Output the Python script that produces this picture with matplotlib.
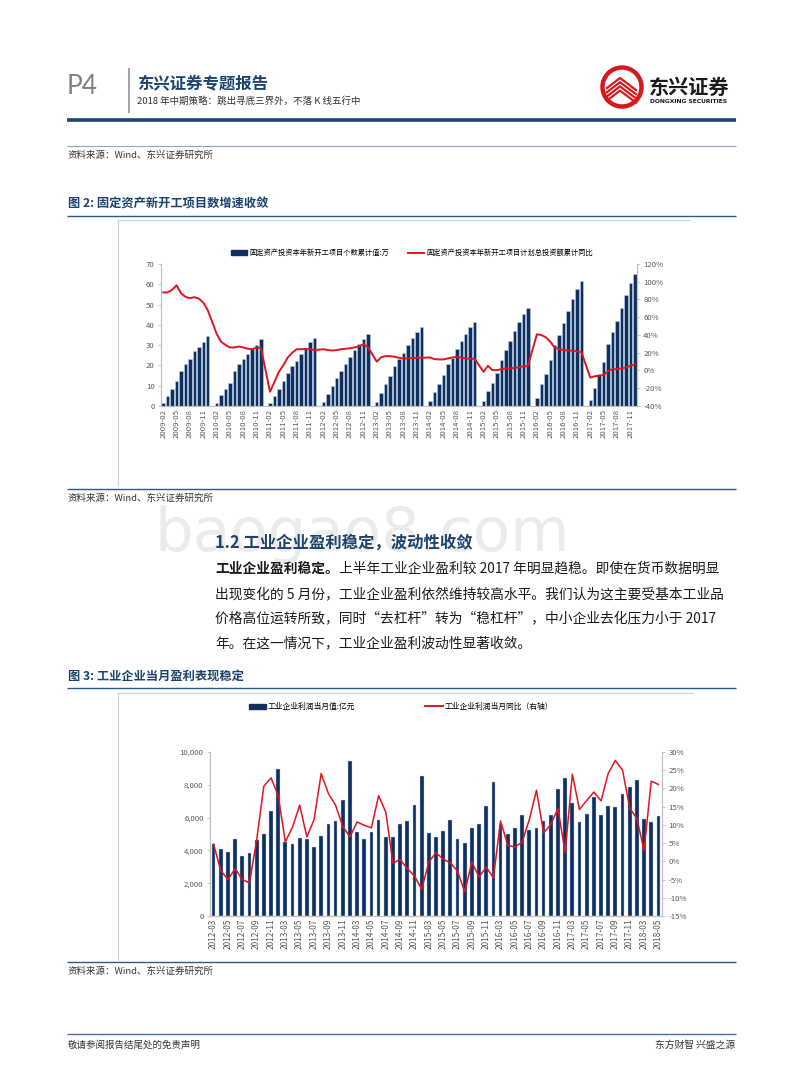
import matplotlib
matplotlib.use('Agg')
import matplotlib.pyplot as plt
import matplotlib.patches as mpatches
from matplotlib.lines import Line2D
from matplotlib.ticker import FuncFormatter
import numpy as np

plt.rcParams['font.family'] = ['Noto Sans CJK SC', 'DejaVu Sans']

# ---------------- data: figure 2 (Feb..Dec of each year, Jan has no data)
years1 = [2009, 2010, 2011, 2012, 2013, 2014, 2015, 2016, 2017]
proj_count = [  # 新开工项目个数累计值, 万
    [1.5, 5.0, 8.4, 12.2, 17.5, 20.5, 23.4, 27.0, 29.2, 31.5, 34.5],
    [1.6, 5.6, 8.4, 11.5, 17.5, 20.5, 23.0, 25.4, 28.0, 30.0, 33.0],
    [1.6, 5.1, 8.6, 12.2, 16.5, 19.8, 22.4, 25.4, 28.5, 31.4, 33.3],
    [2.0, 5.8, 9.7, 13.7, 17.5, 20.8, 24.0, 27.5, 30.4, 33.0, 35.5],
    [2.0, 6.6, 10.6, 14.9, 19.8, 23.4, 26.1, 29.9, 33.3, 36.5, 38.8],
    [2.5, 6.9, 10.6, 15.2, 20.6, 23.8, 28.0, 32.0, 35.5, 38.8, 41.6],
    [2.5, 7.4, 11.5, 16.5, 22.9, 27.5, 32.0, 37.0, 41.6, 45.4, 48.5],
    [4.1, 10.6, 16.0, 22.6, 30.0, 35.0, 40.8, 47.0, 52.6, 57.6, 61.7],
    [2.8, 9.0, 16.0, 21.8, 30.5, 36.6, 42.0, 48.2, 54.5, 60.4, 65.0],
]
plan_yoy = [  # 计划总投资额累计同比, %
    [88, 88, 91, 96, 87, 83, 81.5, 82.6, 81, 76.6, 68],
    [41.5, 32.5, 28.7, 26, 26, 27, 26, 24.5, 24, 26, 25],
    [-24, -12.8, -1.5, 6, 14.7, 20, 24, 24, 24.3, 24, 23],
    [24, 23, 22.5, 23, 24, 24.5, 25, 26, 27, 29.5, 26.5],
    [10, 15, 16.2, 16.2, 15.5, 14.3, 13.6, 13.6, 14, 14.3, 14.3],
    [14.7, 12.8, 12.5, 12.5, 13.6, 14.7, 15.5, 14.7, 13.6, 13.2, 13.2],
    [-1.5, 5.3, 0.4, 0.4, 1.5, 2.3, 2.3, 3, 3.8, 4.5, 5.3],
    [40.8, 40, 37.4, 32.5, 25.7, 24.2, 23, 22.6, 22.3, 21.5, 20.8],
    [-8, -6.4, -6, -4.9, -0.8, 1.5, 1.5, 2.3, 3.4, 5.3, 6.8],
]

# ---------------- data: figure 3 (Mar..Dec of each year)
years2 = [2012, 2013, 2014, 2015, 2016, 2017, 2018]
profit = [  # 工业企业利润当月值, 亿元
    [4410, 4065, 3920, 4700, 3680, 3820, 4630, 5000, 6400, 8960],
    [4510, 4370, 4735, 4675, 4190, 4860, 5590, 5810, 7090, 9450],
    [5120, 4715, 5120, 5870, 4820, 4820, 5630, 5770, 6750, 8520],
    [5080, 4800, 5200, 5870, 4720, 4470, 5345, 5590, 6730, 8170],
    [5550, 5020, 5390, 6160, 5220, 5345, 5770, 6160, 7740, 8430],
    [6870, 5730, 6240, 7280, 6140, 6730, 6650, 7460, 7870, 8270],
    [5910, 5750, 6080],
]
profit_yoy = [  # 当月同比, %
    [4.7, -2.5, -5.0, -2.0, -5.0, -5.9, 5.8, 20.6, 22.9, 18.1],
    [5.3, 9.4, 15.4, 6.7, 11.4, 24.1, 18.6, 15.4, 9.6, 6.7],
    [10.8, 9.9, 9.2, 18.0, 13.5, -0.5, 0.5, -2.0, -4.0, -7.7],
    [-0.2, 2.4, 0.6, -0.4, -2.7, -8.4, -0.2, -4.3, -1.6, -4.5],
    [11.1, 4.4, 3.9, 5.3, 11.4, 19.5, 7.8, 10.1, 14.5, 2.4],
    [23.9, 14.2, 16.7, 19.0, 16.6, 24.1, 27.7, 25.0, 14.6, 11.7],
    [3.0, 22.0, 21.1],
]

# build category axes
cats1, bars1, line1 = [], [], []
for i, yr in enumerate(years1):
    if i > 0:
        cats1.append(f'{yr}-01')
        bars1.append(np.nan)
        line1.append(np.nan)
    for j in range(11):
        cats1.append(f'{yr}-{j + 2:02d}')
        bars1.append(proj_count[i][j])
        line1.append(plan_yoy[i][j])
bars1 = np.array(bars1)
line1 = np.array(line1)

cats2, bars2, line2 = [], [], []
for i, yr in enumerate(years2):
    for j in range(len(profit[i])):
        cats2.append(f'{yr}-{j + 3:02d}')
        bars2.append(profit[i][j])
        line2.append(profit_yoy[i][j])

NAVY = '#0f2f5e'
RED = '#e3141f'
BLUE_T = '#1c4370'
GRAY_T = '#595959'
W, H = 800, 1086

fig = plt.figure(figsize=(8, 10.86), dpi=100)
page = fig.add_axes([0, 0, 1, 1])
page.set_xlim(0, W)
page.set_ylim(H, 0)
page.axis('off')


def rect(l, t, r, b):
    return [l / W, 1 - b / H, (r - l) / W, (b - t) / H]


def hline(y, x0=67, x1=736, c='#2c5a85', lw=1.0):
    page.plot([x0, x1], [y, y], color=c, lw=lw, solid_capstyle='butt')


# ---------------- header
page.text(67, 87, 'P4', fontsize=19, color='#808080', family='Lato', va='center')
page.plot([129, 129], [69, 112], color='#9a9a9a', lw=1.3)
page.text(137, 84, '东兴证券专题报告', fontsize=11.8, weight='bold', color=BLUE_T, va='center')
page.text(137, 101, '2018 年中期策略：跳出寻底三界外，不落 K 线五行中', fontsize=6.8, color='#333333', va='center')

# logo
page.add_patch(mpatches.Circle((622, 87), 19.5, fill=False, ec='#d7191f', lw=3.2))
for k in range(4):
    dy = k * 4.2
    page.plot([607, 620, 636], [94 + dy - 6, 80 + dy - 2, 90 + dy], color='#d7191f', lw=1.6)
page.text(649, 87, '东兴证券', fontsize=14.5, weight='heavy', color='#1a1a1a', va='center')
page.text(650, 101.5, 'DONGXING SECURITIES', fontsize=4.3, weight='bold', color='#1a1a1a',
          va='center', family='DejaVu Sans')

hline(120, c='#1a4674', lw=2.6)
hline(146, c='#8da6bf', lw=0.8)
src = '资料来源：Wind、东兴证券研究所'
page.text(68, 155, src, fontsize=6.8, color='#333333', va='center', style='italic')

# ---------------- figure 2 frame
page.text(68, 204, '图 2: 固定资产新开工项目数增速收敛', fontsize=8.8, weight='bold',
          color=BLUE_T, va='center')
hline(216)
page.plot([118, 689], [219.5, 219.5], color='#d0d0d0', lw=0.8)
page.plot([118, 118], [219.5, 486], color='#d0d0d0', lw=0.8)
hline(489)
page.text(68, 498, src, fontsize=6.8, color='#333333', va='center', style='italic')

# watermark + section text
page.text(154, 551, 'baogao8.com', fontsize=44, color='#ebebeb', family='DejaVu Sans', zorder=0)
page.text(215, 543, '1.2 工业企业盈利稳定，波动性收敛', fontsize=11.8, weight='bold', color=BLUE_T,
          va='center', zorder=3)
t0 = page.text(215, 569, '工业企业盈利稳定。', fontsize=9.9, weight='bold', color='#1a1a1a', va='center')
fig.canvas.draw()
x_end = t0.get_window_extent(fig.canvas.get_renderer()).x1
page.text(x_end, 569, '上半年工业企业盈利较 2017 年明显趋稳。即使在货币数据明显', fontsize=9.9,
          color='#1a1a1a', va='center')
para = ['出现变化的 5 月份，工业企业盈利依然维持较高水平。我们认为这主要受基本工业品',
        '价格高位运转所致，同时“去杠杆”转为“稳杠杆”，中小企业去化压力小于 2017',
        '年。在这一情况下，工业企业盈利波动性显著收敛。']
for k, s in enumerate(para):
    page.text(215, 594 + 24.5 * k, s, fontsize=9.9, color='#1a1a1a', va='center')

# ---------------- figure 3 frame
page.text(68, 676, '图 3: 工业企业当月盈利表现稳定', fontsize=8.8, weight='bold', color=BLUE_T, va='center')
hline(688)
page.plot([118, 693], [692.5, 692.5], color='#d0d0d0', lw=0.8)
page.plot([118, 118], [692.5, 960], color='#d0d0d0', lw=0.8)
hline(962)
page.text(68, 971, src, fontsize=6.8, color='#333333', va='center', style='italic')

# footer
hline(1034, c='#4a6f93', lw=1.0)
page.text(68, 1045, '敬请参阅报告结尾处的免责声明', fontsize=6.8, color='#333333', va='center')
page.text(735, 1045, '东方财智 兴盛之源', fontsize=7, color='#333333', va='center', ha='right')


def style_axes(ax, ax2):
    for a in (ax, ax2):
        a.patch.set_alpha(0)
        a.spines['top'].set_visible(False)
        for s in ('left', 'right', 'bottom'):
            a.spines[s].set_color('#bfbfbf')
            a.spines[s].set_linewidth(0.8)
        a.tick_params(axis='y', length=2, width=0.6, color='#bfbfbf', labelsize=5.6,
                      labelcolor=GRAY_T, pad=2.5)
    ax.tick_params(axis='x', length=0, labelsize=5.6, labelcolor=GRAY_T, pad=2, rotation=90)


# ---------------- chart 1
x1 = np.arange(len(cats1))
ax = fig.add_axes(rect(161, 264, 637, 406))
ax2 = ax.twinx()
ax.bar(x1, bars1, width=0.78, color=NAVY, edgecolor='#bcd3ec', linewidth=0.4)
ok = ~np.isnan(line1)
ax2.plot(x1[ok], line1[ok], color=RED, lw=1.4)
ax.set_xlim(-0.5, len(cats1) - 0.5)
ax.set_ylim(0, 70)
ax.set_yticks(range(0, 71, 10))
ax2.set_ylim(-40, 120)
ax2.set_yticks(range(-40, 121, 20))
ax2.yaxis.set_major_formatter(FuncFormatter(lambda v, p: f'{v:.0f}%'))
ax.set_xticks(x1[::3])
ax.set_xticklabels(cats1[::3])
style_axes(ax, ax2)

h1 = [mpatches.Patch(color=NAVY), Line2D([], [], color=RED, lw=1.4)]
fig.legend(h1, ['固定资产投资本年新开工项目个数累计值:万', '固定资产投资本年新开工项目计划总投资额累计同比'],
           loc='center', bbox_to_anchor=(412 / W, 1 - 253 / H), ncol=2, frameon=False,
           fontsize=5.2, handlelength=2.2, handleheight=0.6, handletextpad=0.3, columnspacing=2.6)

# ---------------- chart 2
x2 = np.arange(len(cats2))
bx = fig.add_axes(rect(210, 752, 662, 916))
bx2 = bx.twinx()
bx.bar(x2, bars2, width=0.52, color=NAVY, edgecolor='#bcd3ec', linewidth=0.3)
bx2.plot(x2, line2, color=RED, lw=1.1)
bx.set_xlim(-0.5, len(cats2) - 0.5)
bx.set_ylim(0, 10000)
bx.set_yticks(range(0, 10001, 2000))
bx.yaxis.set_major_formatter(FuncFormatter(lambda v, p: f'{v:,.0f}'))
bx2.set_ylim(-15, 30)
bx2.set_yticks(range(-15, 31, 5))
bx2.yaxis.set_major_formatter(FuncFormatter(lambda v, p: f'{v:.0f}%'))
bx.set_xticks(x2[::2])
bx.set_xticklabels(cats2[::2])
style_axes(bx, bx2)
bx.tick_params(axis='x', labelsize=6)

h2 = [mpatches.Patch(color=NAVY), Line2D([], [], color=RED, lw=1.4)]
fig.legend(h2, ['工业企业利润当月值:亿元', '工业企业利润当月同比（右轴）'],
           loc='center', bbox_to_anchor=(401 / W, 1 - 707 / H), ncol=2, frameon=False,
           fontsize=5.6, handlelength=2.2, handleheight=0.6, handletextpad=0.3, columnspacing=9.0)

fig.savefig('out.png', dpi=100)
